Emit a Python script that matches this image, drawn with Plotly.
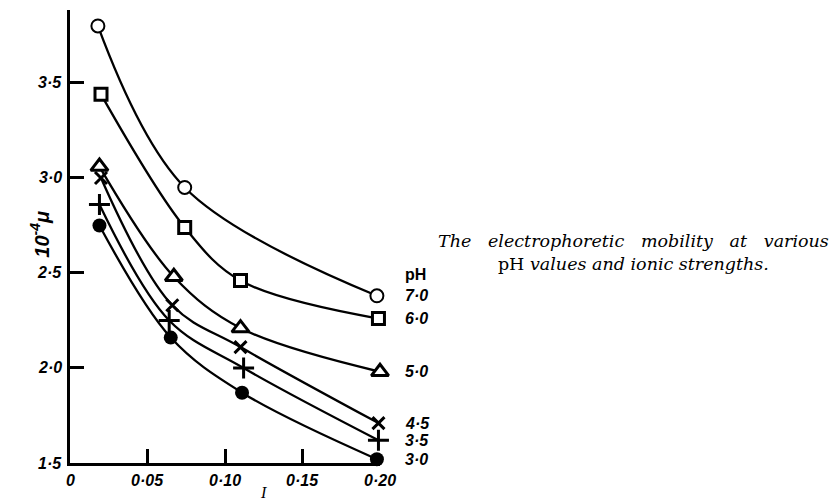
import plotly.graph_objects as go

# Ionic strength I and mobility (10^-4 mu) for each pH
ph_labels = ["7·0", "6·0", "5·0", "4·5", "3·5", "3·0"]
I_ph70 = [0.018, 0.074, 0.198]
mu_ph70 = [3.80, 2.95, 2.38]
I_ph60 = [0.020, 0.074, 0.110, 0.199]
mu_ph60 = [3.44, 2.74, 2.46, 2.26]
I_ph50 = [0.019, 0.067, 0.110, 0.200]
mu_ph50 = [3.06, 2.48, 2.21, 1.98]
I_ph45 = [0.020, 0.066, 0.110, 0.199]
mu_ph45 = [3.00, 2.33, 2.11, 1.71]
I_ph35 = [0.019, 0.064, 0.112, 0.199]
mu_ph35 = [2.86, 2.25, 2.00, 1.62]
I_ph30 = [0.019, 0.065, 0.111, 0.198]
mu_ph30 = [2.75, 2.16, 1.87, 1.52]

x_ticks = [0, 0.05, 0.10, 0.15, 0.20]
x_ticktext = ["0", "0·05", "0·10", "0·15", "0·20"]
y_ticks = [1.5, 2.0, 2.5, 3.0, 3.5]
y_ticktext = ["1·5", "2·0", "2·5", "3·0", "3·5"]

series = [
    (I_ph70, mu_ph70, dict(symbol="circle", size=13, color="white", line=dict(color="black", width=2))),
    (I_ph60, mu_ph60, dict(symbol="square", size=12, color="white", line=dict(color="black", width=3))),
    (I_ph50, mu_ph50, dict(symbol="triangle-up", size=15, color="white", line=dict(color="black", width=3))),
    (I_ph45, mu_ph45, dict(symbol="x-thin", size=12, color="black", line=dict(color="black", width=3))),
    (I_ph35, mu_ph35, dict(symbol="cross-thin", size=15, color="black", line=dict(color="black", width=3))),
    (I_ph30, mu_ph30, dict(symbol="circle", size=14, color="black", line=dict(color="black", width=0))),
]

fig = go.Figure()
for xs, ys, mk in series:
    fig.add_trace(go.Scatter(
        x=xs, y=ys, mode="lines+markers",
        line=dict(color="black", width=2.3, shape="spline", smoothing=1.0),
        marker=mk, cliponaxis=False, showlegend=False,
    ))

tick_font = dict(family="Liberation Sans", size=16, color="black", style="italic", weight="bold")
lab_font = tick_font
annotations = []
# tick labels (placed through the axis scales)
for v, t in zip(x_ticks, x_ticktext):
    annotations.append(dict(x=v, y=0, xref="x", yref="paper", text=t, showarrow=False,
                            xanchor="center", yanchor="middle", yshift=-17, font=tick_font))
for v, t in zip(y_ticks, y_ticktext):
    annotations.append(dict(x=0, y=v, xref="paper", yref="y", text=t, showarrow=False,
                            xanchor="right", yanchor="middle", xshift=-6, font=tick_font))
# series labels
for (xs, ys, mk), lab in zip(series, ph_labels):
    annotations.append(dict(x=1.0, y=ys[-1], xref="paper", yref="y", text=lab, showarrow=False,
                            xanchor="left", yanchor="middle", xshift=23, font=lab_font))
annotations.append(dict(x=1.0, y=mu_ph70[-1], xref="paper", yref="y", text="pH", showarrow=False,
                        xanchor="left", yanchor="middle", xshift=23, yshift=21,
                        font=dict(family="Liberation Sans", size=16, color="black", weight="bold")))
# caption
sp = "\u00a0\u00a0 "
annotations.append(dict(
    x=1.819, y=0.4647, xref="paper", yref="paper", showarrow=False, align="center",
    xanchor="center", yanchor="middle",
    text="<i>The" + sp + "electrophoretic" + sp + "mobility" + sp + "at" + sp + "various</i><br>"
         "pH <i>values and ionic strengths.</i>",
    font=dict(family="DejaVu Serif", size=17.5, color="black"),
))
# axis titles
annotations.append(dict(x=0, y=0.505, xref="paper", yref="paper", xshift=-45, showarrow=False,
                        text="10<sup>-4</sup>μ", textangle=-90,
                        font=dict(family="Liberation Sans", size=20, color="black", style="italic", weight="bold")))
annotations.append(dict(x=0.6226, y=0, xref="paper", yref="paper", yshift=-29, showarrow=False,
                        text="I", yanchor="middle",
                        font=dict(family="Liberation Serif", size=16, color="black", style="italic")))

fig.update_layout(
    width=831, height=493,
    margin=dict(l=62, r=459, t=2, b=38),
    paper_bgcolor="white", plot_bgcolor="white",
    annotations=annotations,
    xaxis=dict(range=[0, 0.20], tickvals=x_ticks, showticklabels=False, showgrid=False, zeroline=False,
               showline=True, linewidth=3, linecolor="black", ticks="inside", ticklen=14,
               tickwidth=2.5, tickcolor="black", automargin=False),
    yaxis=dict(range=[1.5, 3.884], tickvals=y_ticks, showticklabels=False, showgrid=False, zeroline=False,
               showline=True, linewidth=3, linecolor="black", ticks="inside", ticklen=14,
               tickwidth=2.5, tickcolor="black", automargin=False),
)
fig.write_html("out.html")
